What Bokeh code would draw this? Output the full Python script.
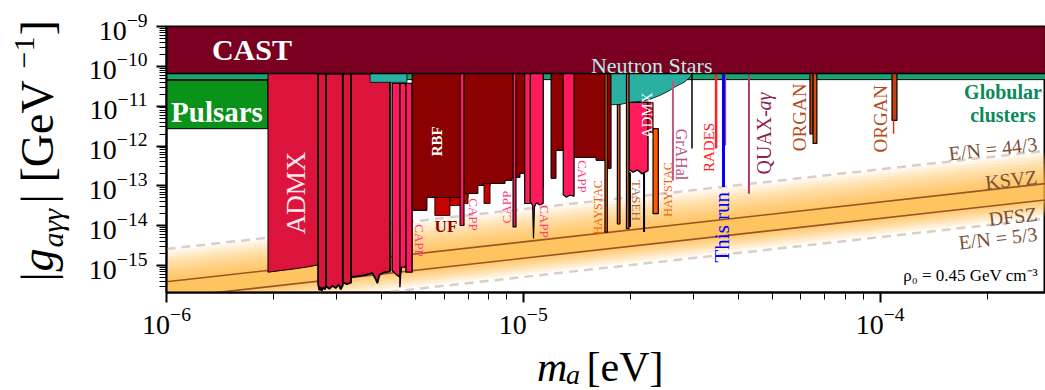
import math
from bokeh.plotting import figure
from bokeh.layouts import row, column
from bokeh.models import Range1d, FixedTicker, Label
from bokeh.embed import file_html
from bokeh.resources import INLINE

FONT = "Liberation Serif"

# ---------------- axes ----------------
M_MIN, M_MAX = 1e-6, 2.908e-4
G_MIN, G_MAX = 2.1e-16, 1e-9
x_major = [1e-6, 1e-5, 1e-4]
y_major = [1e-15, 1e-14, 1e-13, 1e-12, 1e-11, 1e-10, 1e-9]

# ---------------- QCD axion lines ----------------
qcd_m = [1e-6, 3e-4]
ksvz_g = [3.92e-16, 1.176e-13]
dfsz_g = [1.52e-16, 4.56e-14]
en44_g = [2.60e-15, 7.80e-13]
en53_g = [5.15e-17, 1.545e-14]

# ---------------- astrophysics ----------------
cast_g = 6.6e-11
gc_g = 4.64e-11
pulsar_m = [1e-6, 1.925e-6]
pulsar_g = [2.72e-12, 4.45e-11]
ns1_m = [3.72e-6, 4.72e-6]
ns1_g = [3.96e-11, 3.96e-11]
ns2_m = [1.762e-5, 1.866e-5, 1.991e-5, 2.123e-5, 2.265e-5, 2.416e-5, 2.544e-5, 2.679e-5, 2.821e-5, 2.933e-5, 2.970e-5]
ns2_g = [1.09e-11, 1.10e-11, 1.25e-11, 1.32e-11, 1.48e-11, 1.87e-11, 2.35e-11, 3.14e-11, 3.96e-11, 5.3e-11, 6.5e-11]

# ---------------- ADMX ----------------
admx1_m = [1.925e-6, 2.10e-6, 2.30e-6, 2.50e-6, 2.66e-6]
admx1_g = [6.8e-16, 7.5e-16, 8.3e-16, 9.3e-16, 1.04e-15]
admx2_m = [2.66e-6, 2.68e-6, 2.70e-6, 2.72e-6, 2.75e-6, 2.78e-6, 2.80e-6]
admx2_g = [3.4e-16, 2.4e-16, 2.9e-16, 2.3e-16, 2.8e-16, 2.5e-16, 3.2e-16]
admx3_m = [2.80e-6, 2.86e-6, 2.92e-6, 2.98e-6, 3.04e-6, 3.08e-6, 3.12e-6]
admx3_g = [3.0e-16, 2.6e-16, 3.1e-16, 2.7e-16, 3.3e-16, 2.5e-16, 3.2e-16]
admx4_m = [3.12e-6, 3.20e-6, 3.29e-6]
admx4_g = [3.8e-16, 3.4e-16, 3.7e-16]
admx5_m = [3.29e-6, 3.45e-6, 3.60e-6, 3.78e-6, 3.86e-6, 3.90e-6, 3.95e-6, 4.05e-6, 4.23e-6]
admx5_g = [5.1e-16, 5.4e-16, 5.7e-16, 6.4e-16, 4.5e-16, 3.6e-16, 5.8e-16, 6.6e-16, 7.1e-16]
admx6_m = [4.29e-6, 4.40e-6, 4.51e-6]
admx6_g = [7.5e-16, 6.0e-16, 5.1e-16]
admx7_m = [4.51e-6, 4.53e-6, 4.56e-6, 4.69e-6]
admx7_g = [2.85e-16, 6.0e-16, 9.1e-16, 9.1e-16]
admx8_m = [4.69e-6, 4.88e-6]
admx8_g = [6.8e-16, 6.8e-16]
admx_top_pink = 3.74e-11
admxsc_m = [1.978e-5, 2.03e-5, 2.09e-5, 2.15e-5, 2.236e-5]
admxsc_g = [2.6e-13, 2.2e-13, 2.5e-13, 2.0e-13, 2.4e-13]
admxsc_top = 1.25e-11
admxsc2_m = [2.236e-5, 2.31e-5]
admxsc2_g = [2.23e-12, 2.23e-12]
spike_m = [1.99e-5, 2.18e-5]
spike_g = [9.3e-15, 6.9e-15]

# ---------------- RBF / UF ----------------
rbf1_edges = [4.88e-6, 5.37e-6, 7.00e-6, 7.46e-6, 8.07e-6, 8.89e-6, 9.30e-6, 9.79e-6, 1.011e-5, 1.136e-5]
rbf1_g = [2.41e-14, 5.1e-14, 6.4e-14, 1.02e-13, 1.15e-13, 1.37e-13, 1.63e-13, 2.05e-13, 9.1e-14]
rbf2_edges = [1.196e-5, 1.235e-5, 1.387e-5, 1.599e-5, 1.728e-5, 1.762e-5]
rbf2_g = [1.54e-13, 7.75e-13, 5.17e-13, 4.35e-13, 2.74e-13]
uf_m0 = [5.65e-6, 6.23e-6, 6.82e-6, 7.76e-6]
uf_m1 = [6.23e-6, 6.65e-6, 7.00e-6, 8.07e-6]
uf_top = [5.1e-14, 5.1e-14, 6.4e-14, 1.15e-13]
uf_bot = [1.80e-14, 3.2e-14, 3.6e-14, 3.6e-14]

# ---------------- CAPP ----------------
capp1_m = [6.65e-6, 6.82e-6];   capp1_g = [1.01e-14, 1.01e-14]
capp2_m = [9.36e-6, 9.54e-6];   capp2_g = [9.3e-15, 9.3e-15]
capp3_m = [1.009e-5, 1.047e-5]; capp3_g = [3.6e-14, 3.6e-14]
capp4_m = [1.047e-5, 1.062e-5, 1.068e-5, 1.075e-5, 1.09e-5, 1.11e-5, 1.137e-5]
capp4_g = [4.0e-14, 3.2e-14, 4.77e-15, 3.0e-14, 3.8e-14, 3.3e-14, 3.6e-14]
capp5_m = [1.294e-5, 1.32e-5, 1.35e-5, 1.388e-5]
capp5_g = [6.0e-14, 5.2e-14, 5.8e-14, 5.5e-14]

# ---------------- HAYSTAC / TASEH ----------------
hay1_m = [1.694e-5, 1.72e-5]; hay1_g = [6.9e-15, 6.9e-15]
hay2_m = [1.835e-5, 1.866e-5]; hay2_g = [1.1e-14, 1.1e-14]
tas_m = [1.946e-5, 1.978e-5]; tas_g = [8.4e-15, 8.4e-15]
hay3_m = [2.31e-5, 2.39e-5]; hay3_g = [2.0e-14, 2.0e-14]; hay3_top = 2.72e-12

# ---------------- single-mass lines ----------------
grahal_m = 2.627e-5; grahal_g = [4.45e-11, 1.37e-13]
blk_m = 2.97e-5; blk_g = [6.6e-11, 8.7e-13]
rades_m = 3.47e-5; rades_g = [6.6e-11, 8.7e-13]
quax1_m = 3.68e-5; quax1_g = [6.6e-11, 1.03e-12]
thisrun_m = 3.64e-5; thisrun_g = [6.6e-11, 9.3e-14]
quax2_m = 4.29e-5; quax2_g = [6.6e-11, 6.3e-14]
organ1_m = [6.36e-5, 6.49e-5, 6.65e-5]; organ1_g = [2.0e-12, 1.16e-12]
organ2_m = [1.08e-4, 1.115e-4]; organ2_g = [4.4e-12, 4.4e-12]; organ2_tip = 2.04e-12

# ---------------- main figure ----------------
p = figure(x_axis_type="log", y_axis_type="log",
           x_range=Range1d(M_MIN, M_MAX), y_range=Range1d(G_MIN, G_MAX),
           width=975, height=342,
           min_border_left=96, min_border_right=0, min_border_top=26, min_border_bottom=50,
           output_backend="svg", toolbar_location=None)
p.background_fill_color = "white"
p.border_fill_color = "white"
p.xgrid.visible = False
p.ygrid.visible = False
p.outline_line_color = "black"
p.outline_line_width = 2

p.xaxis.ticker = FixedTicker(ticks=x_major,
                             minor_ticks=[k * 10.0 ** e for e in (-6, -5, -4) for k in range(2, 10)])
p.yaxis.ticker = FixedTicker(ticks=y_major,
                             minor_ticks=[k * 10.0 ** e for e in range(-16, -9) for k in range(2, 10)])
for ax in (p.xaxis, p.yaxis):
    ax.axis_line_width = 2
    ax.major_tick_line_width = 2
    ax.major_tick_out = 10
    ax.major_tick_in = 0
    ax.minor_tick_out = 7
    ax.minor_tick_in = 0
    ax.minor_tick_line_width = 1
    ax.major_label_text_font = FONT
    ax.major_label_text_font_size = "28px"
    ax.major_label_text_color = "black"
p.xaxis.major_label_standoff = 5
p.yaxis.major_label_standoff = 9

TOP = cast_g


def top_patch(ms, gs, color, top=TOP, lw=1.0, lc="black"):
    xs = [ms[0]] + list(ms) + [ms[-1]]
    ys = [top] + list(gs) + [top]
    p.patch(xs, ys, fill_color=color, line_color=lc, line_width=lw)


def step_patch(edges, gs, color, top=TOP):
    xs, ys = [edges[0]], [top]
    for i, g in enumerate(gs):
        xs += [edges[i], edges[i + 1]]
        ys += [g, g]
    xs.append(edges[-1]); ys.append(top)
    p.patch(xs, ys, fill_color=color, line_color="black", line_width=1)


# QCD band (gradient layers built from KSVZ/DFSZ lines)
band_up = [6.0, 5.0, 4.2, 3.5, 2.9, 2.4, 2.0, 1.7, 1.45, 1.25, 1.1, 1.0]
band_dn = [2.6, 2.3, 2.0, 1.8, 1.6, 1.45, 1.3, 1.2, 1.1, 1.05, 1.0, 1.0]
for fu, fd in zip(band_up, band_dn):
    p.varea(x=qcd_m, y1=[d / fd for d in dfsz_g], y2=[k * fu for k in ksvz_g],
            fill_color="#ffb23a", fill_alpha=0.12)
p.line(qcd_m, en44_g, line_color="#dccdc6", line_width=2.5, line_dash="9 6")
p.line(qcd_m, en53_g, line_color="#dccdc6", line_width=2.5, line_dash="9 6")
p.line(qcd_m, ksvz_g, line_color="#9a5528", line_width=1.6)
p.line(qcd_m, dfsz_g, line_color="#9a5528", line_width=1.6)

# Globular clusters & pulsars
p.quad(left=[M_MIN], right=[M_MAX], bottom=[gc_g], top=[cast_g], fill_color="#17a673",
       line_color="black", line_width=1)
p.quad(left=[pulsar_m[0]], right=[pulsar_m[1]], bottom=[pulsar_g[0]], top=[pulsar_g[1]],
       fill_color="#0a921a", line_color="black", line_width=1)

# ADMX
CRIMSON = "#dc143c"
PINK = "#ff1a5c"
top_patch(admx1_m, admx1_g, CRIMSON)
top_patch(admx2_m, admx2_g, CRIMSON, lw=1.8)
top_patch(admx3_m, admx3_g, CRIMSON, lw=1.8)
top_patch(admx4_m, admx4_g, CRIMSON, lw=1.8)
top_patch(admx5_m, admx5_g, CRIMSON, lw=1.8)
top_patch(admx6_m, admx6_g, PINK, top=admx_top_pink, lw=1.4)
top_patch(admx7_m, admx7_g, PINK, top=admx_top_pink, lw=1.4)
top_patch(admx8_m, admx8_g, PINK, top=admx_top_pink, lw=1.4)

# RBF / UF
step_patch(rbf1_edges, rbf1_g, "#8b0000")
step_patch(rbf2_edges, rbf2_g, "#8b0000")
p.quad(left=uf_m0, right=uf_m1, top=uf_top, bottom=uf_bot, fill_color="#c80000",
       line_color="black", line_width=0.8)

# CAPP
for ms, gs in ((capp1_m, capp1_g), (capp2_m, capp2_g), (capp3_m, capp3_g),
               (capp4_m, capp4_g), (capp5_m, capp5_g)):
    top_patch(ms, gs, PINK, lw=1.2)

# HAYSTAC (under neutron stars)
top_patch(hay1_m, hay1_g, "#ff5a00", lw=1.2)
top_patch(hay2_m, hay2_g, "#e0501a", lw=1.2)

# ADMX sidecar region
top_patch(admxsc_m, admxsc_g, PINK, top=admxsc_top, lw=1.4)
top_patch(admxsc2_m, admxsc2_g, CRIMSON, top=admxsc_top, lw=1.0)
for m, g in zip(spike_m, spike_g):
    p.line([m, m], [admxsc_g[1], g], line_color="black", line_width=2)

# Neutron stars
p.patch([ns1_m[0], ns1_m[0], ns1_m[1], ns1_m[1]], [cast_g, ns1_g[0], ns1_g[1], cast_g],
        fill_color="#2ab0a0", line_color="black", line_width=0.8)
p.patch([ns2_m[0]] + ns2_m + [ns2_m[-1]], [cast_g] + ns2_g + [cast_g],
        fill_color="#2ab0a0", line_color="black", line_width=0.8)

top_patch(tas_m, tas_g, "#c8602a", lw=1.2)
top_patch(hay3_m, hay3_g, "#ff5a00", top=hay3_top, lw=1.2)

# single-mass lines
p.line([grahal_m, grahal_m], grahal_g, line_color="#c05a82", line_width=2)
p.line([blk_m, blk_m], blk_g, line_color="black", line_width=1.5)
p.line([rades_m, rades_m], rades_g, line_color="#ff2020", line_width=2.5)
p.line([quax1_m, quax1_m], quax1_g, line_color="#a8406a", line_width=2)
p.line([thisrun_m, thisrun_m], thisrun_g, line_color="#0000ff", line_width=3)
p.line([quax2_m, quax2_m], quax2_g, line_color="#a8406a", line_width=2)
top_patch(organ1_m[:2], [organ1_g[0]] * 2, "#c4400f", lw=1.2)
top_patch(organ1_m[1:], [organ1_g[1]] * 2, "#d85010", lw=1.2)
top_patch(organ2_m, organ2_g, "#c4400f", lw=1.2)
p.line([organ2_m[0] * 1.01, organ2_m[0] * 1.01], [organ2_g[0], organ2_tip], line_color="#c4400f", line_width=1.5)

# CAST
p.quad(left=[M_MIN], right=[M_MAX], bottom=[cast_g], top=[G_MAX], fill_color="#7a0022",
       line_color="black", line_width=1.5)

# ---------------- labels ----------------
R90 = math.pi / 2


def lbl(fig, text, x, y, color, size, angle=0.0, align="center", baseline="middle",
        style="normal", xo=0.0, yo=0.0):
    if baseline == "alphabetic":
        # anchor on the baseline: shift the middle anchor towards the glyph tops
        d = 0.34 * size
        xo += -math.sin(angle) * d
        yo += math.cos(angle) * d
        baseline = "middle"
    fig.add_layout(Label(x=x, y=y, text=text, text_color=color, text_font_size=f"{size}px",
                         text_font=FONT, text_font_style=style, angle=angle,
                         text_align=align, text_baseline=baseline, x_offset=xo, y_offset=yo))


lbl(p, "CAST", 1.736e-6, 2.6e-10, "white", 30, style="bold")
lbl(p, "Pulsars", 1.385e-6, 6.98e-12, "white", 29, style="bold")
lbl(p, "ADMX", 2.307e-6, 6.64e-14, "#fbe6ec", 27, angle=R90)
lbl(p, "RBF", 5.73e-6, 1.31e-12, "white", 15, angle=R90, style="bold")
lbl(p, "UF", 6.07e-6, 9.55e-15, "#8b0000", 17, style="bold")
CAPPC = "#ff3a78"
lbl(p, "CAPP", 5.13e-6, 4.25e-15, CAPPC, 13, angle=-R90)
lbl(p, "CAPP", 7.23e-6, 1.91e-14, CAPPC, 13, angle=-R90)
lbl(p, "CAPP", 9.0e-6, 2.92e-14, CAPPC, 13, angle=R90)
lbl(p, "CAPP", 1.143e-5, 1.28e-14, CAPPC, 13, angle=-R90)
lbl(p, "CAPP", 1.47e-5, 1.72e-13, CAPPC, 13, angle=-R90)
lbl(p, "HAYSTAC", 1.62e-5, 2.86e-14, "#ff5a00", 12, angle=R90)
lbl(p, "HAYSTAC", 2.54e-5, 8.1e-14, "#ff5a00", 12, angle=R90)
lbl(p, "TASEH", 2.08e-5, 4.3e-14, "#b06a3a", 13, angle=-R90)
lbl(p, "ADMX", 2.217e-5, 5.87e-12, "white", 15, angle=R90)
lbl(p, "GrAHal", 2.77e-5, 6.15e-13, "#b8507a", 16, angle=-R90)
lbl(p, "RADES", 3.31e-5, 9.2e-13, "#ff2020", 15, angle=R90)
lbl(p, "This run", 3.6e-5, 9.16e-15, "#0000ff", 21, angle=R90)
lbl(p, "QUAX-", 4.73e-5, 1.93e-13, "#8e1f52", 20, angle=R90, align="left")
lbl(p, "aγ", 4.73e-5, 1.93e-13, "#8e1f52", 20, angle=R90, align="left", style="italic", yo=64)
lbl(p, "ORGAN", 5.93e-5, 5.24e-12, "#b84a1a", 19, angle=R90)
lbl(p, "ORGAN", 1.004e-4, 4.85e-12, "#b84a1a", 19, angle=R90)
lbl(p, "Neutron Stars", 2.29e-5, 1.03e-10, "#b8ece4", 22)
lbl(p, "Globular", 2.21e-4, 2.22e-11, "#0a8a5a", 20, style="bold")
lbl(p, "clusters", 2.21e-4, 5.87e-12, "#0a8a5a", 20, style="bold")

ANG = math.atan(39.8 / 356.8)
BROWN = "#7a5038"
lbl(p, "E/N = 44/3", 2.77e-4, 7.7e-13, BROWN, 20, angle=ANG, align="right", baseline="alphabetic")
lbl(p, "KSVZ", 2.77e-4, 1.15e-13, BROWN, 20, angle=ANG, align="right", baseline="alphabetic")
lbl(p, "DFSZ", 2.77e-4, 1.35e-14, BROWN, 20, angle=ANG, align="right", baseline="alphabetic")
lbl(p, "E/N = 5/3", 2.77e-4, 4.25e-15, BROWN, 20, angle=ANG, align="right", baseline="alphabetic")
lbl(p, "ρ₀ = 0.45 GeV cm⁻³", 2.77e-4, 3.96e-16, "black", 17, align="right", baseline="alphabetic")


# ---------------- axis titles (separate text panels) ----------------
def text_panel(w, h):
    f = figure(width=w, height=h, x_range=Range1d(0, w), y_range=Range1d(0, h),
               x_axis_location=None, y_axis_location=None, min_border=0,
               min_border_left=0, min_border_right=0, min_border_top=0, min_border_bottom=0,
               output_backend="svg", toolbar_location=None)
    f.outline_line_color = None
    f.xgrid.visible = False
    f.ygrid.visible = False
    f.background_fill_color = "white"
    f.border_fill_color = "white"
    return f


AX = 46
XF = 42
xt = text_panel(975, 48)
lbl(xt, "m", 411, 9.5, "black", XF, style="italic", align="left", baseline="alphabetic")
lbl(xt, "a", 443, 6.5, "black", 28, style="italic", align="left", baseline="alphabetic")
lbl(xt, "[eV]", 466, 9.5, "black", XF, align="left", baseline="alphabetic")

yt = text_panel(70, 390)
YB = 53
lbl(yt, "|", YB, 109, "black", AX, angle=R90, align="left", baseline="alphabetic")
lbl(yt, "g", YB, 119, "black", AX, angle=R90, align="left", baseline="alphabetic", style="italic")
lbl(yt, "aγγ", YB + 9, 143, "black", 30, angle=R90, align="left", baseline="alphabetic", style="italic")
lbl(yt, "|", YB, 187, "black", AX, angle=R90, align="left", baseline="alphabetic")
lbl(yt, "[GeV", YB, 208, "black", AX, angle=R90, align="left", baseline="alphabetic")
lbl(yt, "−1", YB - 19, 322, "black", 30, angle=R90, align="left", baseline="alphabetic")
lbl(yt, "]", YB, 355, "black", AX, angle=R90, align="left", baseline="alphabetic")

layout = row(yt, column(p, xt))
open("out.html", "w").write(file_html(layout, INLINE))
